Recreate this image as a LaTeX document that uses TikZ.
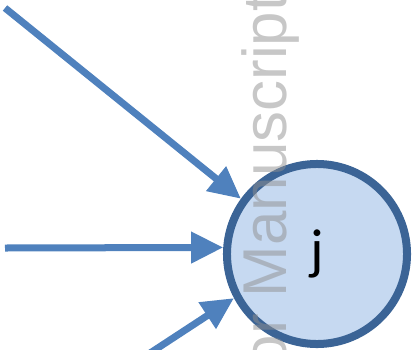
\documentclass[tikz,border=0pt]{standalone}
\usepackage{fontspec}
\setmainfont{Carlito}
\newfontfamily\wmfont{Liberation Sans}
\usepackage{xcolor}
\usetikzlibrary{arrows.meta, automata}
\definecolor{nodefill}{HTML}{C6D9F1}
\definecolor{nodeline}{HTML}{3B6496}
\definecolor{arrowblue}{HTML}{4F81BD}
\definecolor{wmgray}{HTML}{8F8F8F}

\begin{document}
\begin{tikzpicture}[x=0.025cm, y=-0.025cm,
                    >={Triangle[width=0.75cm, length=0.8cm]},
                    shorten >= 0pt, line width=0.175cm]
\tikzstyle{every state}=[shape=circle, draw=nodeline, fill=nodefill,
                    line width=0.2cm, inner sep=1pt, minimum size=4.5cm]
  \useasboundingbox (0,0) rectangle (413,349);
  \clip (0,0) rectangle (413,349);
  \node[state] (j) at (317,254) {\fontsize{40}{40}\selectfont j};
  \coordinate (in1) at (5,8);
  \coordinate (in2) at (5,248);
  \coordinate (in3) at (115,376);
  \path[->, color=arrowblue] (in1) edge (j.144);
  \path[->, color=arrowblue] (in2) edge (j.176);
  \path[->, color=arrowblue] (in3) edge (j.208);
  % watermark on top
  \node[font=\wmfont\fontsize{44}{44}\selectfont, text=wmgray,
        text opacity=0.5, rotate=90, anchor=base east, inner sep=0pt]
        (wm) at (286,-9) {Author Manuscript};
\end{tikzpicture}
\end{document}
